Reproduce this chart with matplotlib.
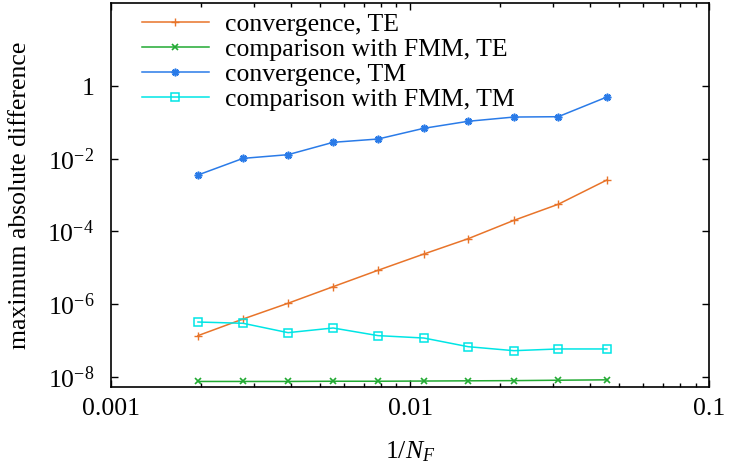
import matplotlib
matplotlib.use("Agg")
import matplotlib.pyplot as plt
from matplotlib.ticker import LogLocator, NullFormatter, FixedLocator, FixedFormatter
import numpy as np

N_F = [512, 362, 256, 181, 128, 90, 64, 45, 32, 22]
inv_NF = [1.0 / n for n in N_F]

conv_TE = [1.35e-7, 3.87e-7, 1.05e-6, 3.0e-6, 8.5e-6, 2.38e-5, 6.28e-5, 2.01e-4, 5.56e-4, 2.59e-3]
fmm_TE = [7.4e-9, 7.4e-9, 7.4e-9, 7.5e-9, 7.5e-9, 7.6e-9, 7.7e-9, 7.8e-9, 8.0e-9, 8.2e-9]
conv_TM = [3.56e-3, 1.02e-2, 1.29e-2, 2.82e-2, 3.48e-2, 6.86e-2, 0.107, 0.140, 0.143, 0.498]
fmm_TM = [3.2e-7, 2.95e-7, 1.63e-7, 2.19e-7, 1.35e-7, 1.16e-7, 6.7e-8, 5.2e-8, 5.8e-8, 5.8e-8]

labels = ["convergence, TE", "comparison with FMM, TE", "convergence, TM", "comparison with FMM, TM"]
ytick_vals = [1e-8, 1e-6, 1e-4, 1e-2, 1]
ytick_labels = [r"$\mathregular{10^{-8}}$", r"$\mathregular{10^{-6}}$", r"$\mathregular{10^{-4}}$",
                r"$\mathregular{10^{-2}}$", "1"]
xtick_vals = [0.001, 0.01, 0.1]
xtick_labels = ["0.001", "0.01", "0.1"]

plt.rcParams['font.family'] = ['Liberation Serif', 'DejaVu Serif']
plt.rcParams['mathtext.fontset'] = 'custom'
plt.rcParams['mathtext.rm'] = 'Liberation Serif'
plt.rcParams['mathtext.it'] = 'Liberation Serif:italic'

FS = 18.5

fig = plt.figure(figsize=(7.29, 4.71), dpi=100)
ax = fig.add_axes([0.1523, 0.1783, 0.973 - 0.1523, 0.993 - 0.1783])

ax.plot(inv_NF, conv_TE, color='#e8742a', lw=1.1, marker='+', ms=5.5, mew=1.0, label=labels[0])
ax.plot(inv_NF, fmm_TE, color='#22aa33', lw=1.1, marker='x', ms=4.5, mew=1.2, label=labels[1])
ax.plot(inv_NF, conv_TM, color='#2a7be8', lw=1.1, marker=(8, 2, 0), ms=5.5, mew=1.2, label=labels[2])
ax.plot(inv_NF, fmm_TM, color='#00e5e5', lw=1.1, marker='s', ms=5.5, mew=1.1, fillstyle='none', label=labels[3])

ax.set_xscale('log')
ax.set_yscale('log')
ax.set_xlim(0.001, 0.1)
ax.set_ylim(5.2e-9, 189)

ax.xaxis.set_major_locator(FixedLocator(xtick_vals))
ax.xaxis.set_major_formatter(FixedFormatter(xtick_labels))
ax.xaxis.set_minor_locator(LogLocator(base=10, subs=np.arange(2, 10)))
ax.xaxis.set_minor_formatter(NullFormatter())
ax.yaxis.set_major_locator(FixedLocator(ytick_vals))
ax.yaxis.set_major_formatter(FixedFormatter(ytick_labels))
ax.yaxis.set_minor_locator(FixedLocator([]))

ax.tick_params(which='both', direction='in', top=True, right=True, labelsize=FS, width=1.0)
ax.tick_params(which='major', length=5)
ax.tick_params(which='minor', length=3)
ax.tick_params(axis='x', which='major', pad=8)
ax.tick_params(axis='y', which='major', pad=12)
for s in ax.spines.values():
    s.set_linewidth(1.2)

ax.set_xlabel(r"1/$\mathit{N_F}$", fontsize=FS, labelpad=14)
ax.set_ylabel("maximum absolute difference", fontsize=FS, labelpad=12)

leg = ax.legend(loc='upper left', bbox_to_anchor=(0.0518, 0.974), frameon=False, fontsize=FS,
                handlelength=2.6, handletextpad=0.62, labelspacing=0.08, borderaxespad=0.0,
                borderpad=0.0)

fig.savefig("out.png", dpi=100)
